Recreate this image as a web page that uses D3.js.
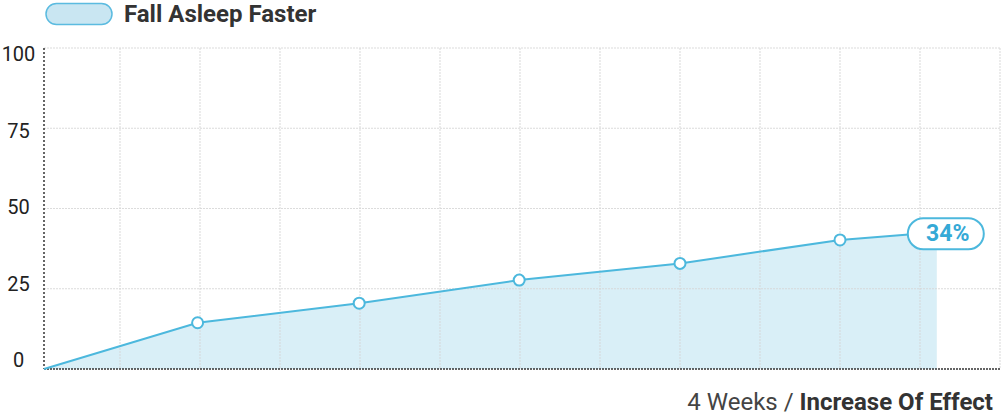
<!DOCTYPE html>
<html>
<head>
<meta charset="utf-8">
<script src="https://cdn.jsdelivr.net/npm/d3@7"></script>
<style>
  html, body { margin: 0; padding: 0; background: #fff; }
  svg { display: block; font-family: Roboto, "Noto Sans", sans-serif; }
</style>
</head>
<body>
<svg id="chart" width="1001" height="416"></svg>
<script>
// ---- data ----
const seriesName = "Fall Asleep Faster";
const xPositions = [0.05, 1.97, 3.99, 5.99, 8.0, 10.0, 11.21];   // position along the 4-week span (grid units)
const yValues    = [0, 14.4, 20.5, 27.7, 32.9, 40.2, 42.6];
const markerShown = [false, true, true, true, true, true, false];
const endLabel = "34%";
const yTicks = [0, 25, 50, 75, 100];
const xGridTicks = [1, 2, 3, 4, 5, 6, 7, 8, 9, 10, 11, 12];
const footerRegular = "4 Weeks / ";
const footerBold = "Increase Of Effect";

// ---- layout ----
const lineColor = "#4cb8dd";
const svg = d3.select("#chart");

const x = d3.scaleLinear().domain([0, 12]).range([40, 1000]);
const y = d3.scaleLinear().domain([0, 100]).range([369, 48]);
const yLabel = d3.scaleLinear().domain([0, 100]).range([360, 54]);

const x0 = x(xPositions[0]);
const data = xPositions.map((p, i) => ({ p, v: yValues[i], m: markerShown[i] }));

// area (behind grid so grid shows through)
const area = d3.area().x(d => x(d.p)).y0(y(0)).y1(d => y(d.v));
svg.append("path").datum(data)
  .attr("d", area)
  .attr("fill", "#d9eff7");

// grid
const grid = svg.append("g");
grid.selectAll("line.h").data(yTicks.filter(t => t > 0)).enter().append("line")
  .attr("x1", x0).attr("x2", x(12))
  .attr("y1", d => y(d)).attr("y2", d => y(d))
  .attr("stroke", "#d6d6d6").attr("stroke-width", 1)
  .attr("stroke-dasharray", "2,1").attr("opacity", 0.85);
grid.selectAll("line.v").data(xGridTicks).enter().append("line")
  .attr("x1", d => x(d)).attr("x2", d => x(d))
  .attr("y1", y(100)).attr("y2", y(0))
  .attr("stroke", "#d6d6d6").attr("stroke-width", 1.2)
  .attr("stroke-dasharray", "2,1").attr("opacity", 0.75);

// axes lines (dotted, dark)
svg.append("line")
  .attr("x1", x0).attr("x2", x0).attr("y1", y(100)).attr("y2", y(0))
  .attr("stroke", "#333").attr("stroke-width", 1.5).attr("stroke-dasharray", "2,2");
svg.append("line")
  .attr("x1", x0).attr("x2", x(12)).attr("y1", y(0)).attr("y2", y(0))
  .attr("stroke", "#333").attr("stroke-width", 1.5).attr("stroke-dasharray", "2,1");

// y tick labels
svg.append("g").selectAll("text").data(yTicks).enter().append("text")
  .attr("x", 18.5).attr("y", d => yLabel(d))
  .attr("text-anchor", "middle").attr("dominant-baseline", "central")
  .attr("font-size", 20).attr("fill", "#222")
  .text(d => d);

// line
const line = d3.line().x(d => x(d.p)).y(d => y(d.v));
svg.append("path").datum(data)
  .attr("d", line)
  .attr("fill", "none").attr("stroke", lineColor).attr("stroke-width", 2);

// markers
svg.append("g").selectAll("circle").data(data.filter(d => d.m)).enter().append("circle")
  .attr("cx", d => x(d.p)).attr("cy", d => y(d.v)).attr("r", 5.5)
  .attr("fill", "#fff").attr("stroke", lineColor).attr("stroke-width", 2);

// end label pill
const last = data[data.length - 1];
const lg = svg.append("g").attr("transform", `translate(${x(last.p) + 9},${y(last.v) + 1.5})`);
lg.append("rect")
  .attr("x", -38).attr("y", -15.5).attr("width", 76).attr("height", 31).attr("rx", 15.5)
  .attr("fill", "#fff").attr("stroke", lineColor).attr("stroke-width", 2);
lg.append("text")
  .attr("x", 2).attr("y", 0).attr("text-anchor", "middle").attr("dominant-baseline", "central")
  .attr("font-size", 23).attr("font-weight", "bold").attr("fill", "#35a9d6")
  .text(endLabel);

// legend
const leg = svg.append("g");
leg.append("rect")
  .attr("x", 46).attr("y", 3.5).attr("width", 66).attr("height", 21).attr("rx", 10.5)
  .attr("fill", "#c9e6f2").attr("stroke", "#5bbbe0").attr("stroke-width", 1.5);
leg.append("text")
  .attr("x", 124).attr("y", 22)
  .attr("font-size", 24).attr("font-weight", "bold").attr("fill", "#333")
  .text(seriesName);

// footer
const ft = svg.append("text")
  .attr("x", 993).attr("y", 410).attr("text-anchor", "end")
  .attr("font-size", 24).attr("fill", "#444");
ft.append("tspan").text(footerRegular);
ft.append("tspan").attr("font-weight", "bold").attr("fill", "#333").text(footerBold);
</script>
</body>
</html>
